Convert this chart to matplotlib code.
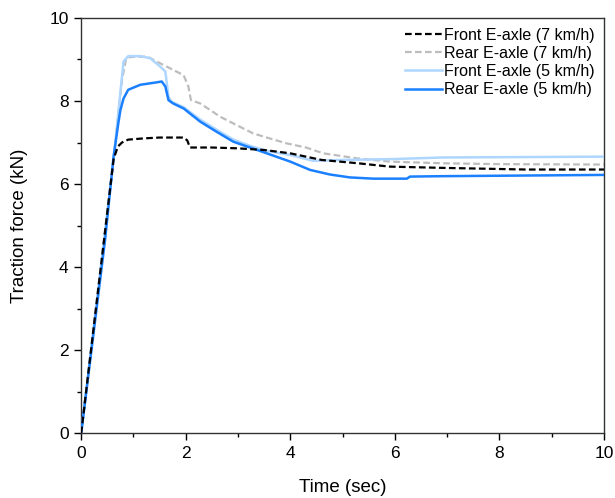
import matplotlib
matplotlib.use("Agg")
import matplotlib.pyplot as plt
from matplotlib.ticker import MultipleLocator

plt.rcParams['font.family'] = ['Liberation Sans', 'DejaVu Sans']

# Front E-axle, 7 km/h
t_front7 = [0, 0.62, 0.70, 0.78, 0.90, 1.20, 1.50, 1.96, 2.03, 2.08, 2.5, 3.0,
            3.5, 4.0, 4.6, 5.3, 5.9, 6.9, 7.7, 8.5, 10]
f_front7 = [0, 6.6, 6.9, 7.0, 7.07, 7.10, 7.12, 7.12, 7.05, 6.88, 6.88, 6.86,
            6.82, 6.74, 6.58, 6.50, 6.42, 6.39, 6.37, 6.35, 6.35]

# Rear E-axle, 7 km/h
t_rear7 = [0, 0.62, 0.78, 0.86, 0.95, 1.26, 1.57, 1.96, 2.05, 2.10, 2.28, 2.66,
           2.91, 3.29, 3.55, 3.93, 4.3, 4.63, 5.27, 5.91, 6.93, 8, 10]
f_rear7 = [0, 6.6, 8.5, 9.02, 9.06, 9.07, 8.87, 8.62, 8.35, 8.02, 7.94, 7.62,
           7.46, 7.22, 7.12, 6.98, 6.88, 6.74, 6.62, 6.54, 6.50, 6.48, 6.47]

# Front E-axle, 5 km/h
t_front5 = [0, 0.62, 0.81, 0.90, 1.13, 1.32, 1.51, 1.61, 1.67, 1.73, 1.96, 2.28,
            2.6, 2.91, 3.23, 3.55, 4.0, 4.44, 4.95, 5.91, 6.93, 10]
f_front5 = [0, 6.6, 8.95, 9.08, 9.08, 9.03, 8.83, 8.71, 8.10, 7.98, 7.85, 7.55,
            7.30, 7.07, 6.92, 6.80, 6.70, 6.56, 6.58, 6.60, 6.64, 6.66]

# Rear E-axle, 5 km/h
t_rear5 = [0, 0.46, 0.62, 0.71, 0.75, 0.81, 0.90, 1.13, 1.45, 1.54, 1.61, 1.67,
           1.76, 1.96, 2.28, 2.59, 2.91, 3.23, 3.55, 4.0, 4.38, 4.76, 5.14, 5.59,
           6.23, 6.29, 6.93, 10]
f_rear5 = [0, 4.69, 6.66, 7.46, 7.78, 8.06, 8.27, 8.39, 8.45, 8.47, 8.35, 8.02,
           7.94, 7.82, 7.50, 7.26, 7.02, 6.88, 6.74, 6.54, 6.34, 6.23, 6.16, 6.13,
           6.13, 6.18, 6.19, 6.22]

fig = plt.figure(figsize=(6.15, 4.98), dpi=100)
ax = fig.add_axes([0.132, 0.13, 0.850, 0.834])

ax.plot(t_front7, f_front7, color='black', lw=1.6, linestyle=(0, (3, 1.5)),
        label='Front E-axle (7 km/h)', zorder=5)
ax.plot(t_rear7, f_rear7, color='#bdbdbd', lw=1.6, linestyle=(0, (3, 1.5)),
        label='Rear E-axle (7 km/h)', zorder=2)
ax.plot(t_front5, f_front5, color='#aed6ff', lw=1.8,
        label='Front E-axle (5 km/h)', zorder=3)
ax.plot(t_rear5, f_rear5, color='#1a80ff', lw=1.8,
        label='Rear E-axle (5 km/h)', zorder=4)

ax.set_xlim(0, 10)
ax.set_ylim(0, 10)
ax.xaxis.set_major_locator(MultipleLocator(2))
ax.xaxis.set_minor_locator(MultipleLocator(1))
ax.yaxis.set_major_locator(MultipleLocator(2))
ax.yaxis.set_minor_locator(MultipleLocator(1))
ax.tick_params(which='major', direction='out', length=5, width=1, labelsize=12.5, pad=4)
ax.tick_params(which='minor', direction='out', length=3, width=1)
for s in ax.spines.values():
    s.set_color('#333333')
    s.set_linewidth(1)

ax.set_xlabel('Time (sec)', fontsize=13.5, labelpad=13)
ax.set_ylabel('Traction force (kN)', fontsize=13.5, labelpad=15)

ax.legend(loc='upper right', frameon=False, fontsize=11.5, handlelength=2.3,
          handletextpad=0.1, labelspacing=0.2, borderaxespad=0.2)

fig.savefig('out.png', dpi=100)
